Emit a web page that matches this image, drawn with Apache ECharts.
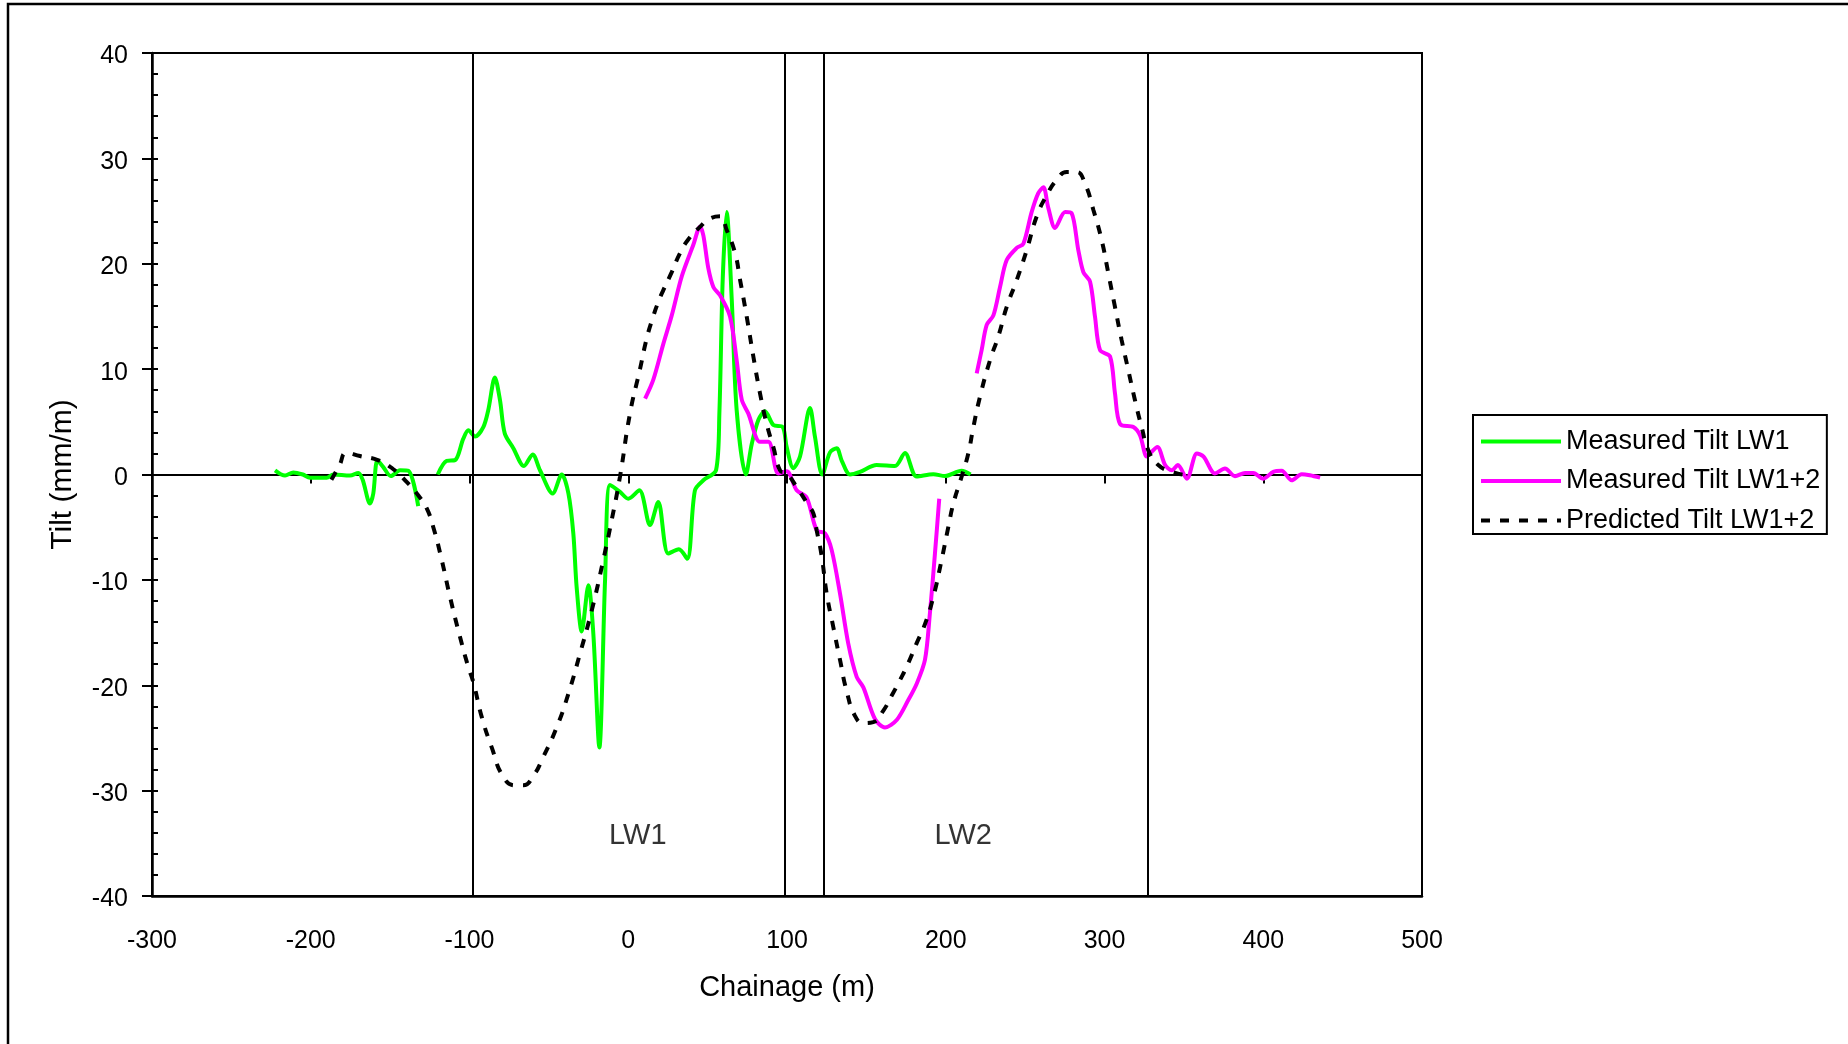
<!DOCTYPE html>
<html>
<head>
<meta charset="utf-8">
<title>Tilt profile</title>
<script src="https://cdn.jsdelivr.net/npm/echarts@6/dist/echarts.min.js"></script>
<style>
  html, body { margin: 0; padding: 0; background: #fff; }
  #chart { width: 1848px; height: 1044px; }
</style>
</head>
<body>
<div id="chart"></div>
<script>
// ---- Measured tilt after LW1 (a null tilt marks a break in the survey line)
const lw1Chainage = [-222.5, -216.2, -211, -205, -200.5, -190, -185.8, -175.3, -170, -167.3, -162.7, -160.6, -158, -154.3, -149.6, -143.8, -138.5, -132.3,
  -126,
  -120, -114.4, -109.1, -103.9, -100.7, -96.5, -91.3, -88.2, -84, -80.8, -77.8, -72.4, -65.7, -60.2, -55.6, -47.6, -41.9, -37.7, -34.6, -32.5, -29.3, -25.1, -22, -18.2, -14.6, -11.5, -5.2, 0, 7, 13.7, 18.9, 25.2, 31.9, 37.2, 42, 47.3, 55.3, 57.4, 59.5, 62, 65.2, 68.3, 74.1, 77.8, 82, 86.1, 91.4, 97.3, 99.8, 104, 108.2, 114.5, 117.6, 122.2, 127.1, 131.3, 134.5, 139.7, 146, 156.5, 168, 174.3, 181.7, 192.2, 199.5, 210, 215.6];
const lw1Tilt = [0.4, -0.1, 0.2, 0.0, -0.3, -0.3, 0, -0.1, 0.15, -0.5, -2.75, -1.8, 1.35, 0.7, -0.15, 0.4, 0.35, -3.0,
  null,
  0, 1.3, 1.36, 3.4, 4.2, 3.6, 4.5, 6.1, 9.2, 7.06, 3.9, 2.5, 0.8, 1.9, 0.4, -1.8, 0, -1.8, -5.6, -10.7, -14.9, -10.5, -15.1, -25.9, -10, -1.0, -1.65, -2.3, -1.5, -4.8, -2.6, -7.5, -7.1, -8.0, -1.5, -0.55, 0.4, 5.8, 18.5, 24.9, 16.6, 6.1, 0, 2.9, 5.2, 6.0, 4.7, 4.5, 2.6, 0.6, 1.7, 6.3, 3.6, 0, 2.1, 2.5, 1.3, 0, 0.25, 0.9, 0.8, 2.05, -0.2, 0.03, -0.15, 0.35, 0];

// ---- Measured tilt after LW1 and LW2
const lw12Chainage = [10.6, 15.8, 22.1, 27.4, 33.7, 41, 45.2, 47.3, 50.4, 53.6, 57.8, 64.1, 68.3, 71.5, 75.6, 83, 88.3, 94.5, 99.8, 106.1, 112.4, 118.7, 124, 128.2, 133.4, 138.6, 143.9, 148.1, 155.4, 161.7, 169.1, 176.4, 181.7, 186.9, 190, 193.2, 195.9,
  207,
  219.5, 222.6, 225.8, 230, 234.2, 238.4, 244.7, 248.9, 254.1, 258.3, 261.5, 264.6, 268.9, 275.2, 279.3, 283.5, 286.7, 290.9, 294, 297.2, 303.5, 306.6, 309.8, 318.2, 322.4, 326.6, 328.7, 333.3, 338.2, 342.4, 346.2, 351.9, 358.2, 362.4, 369.6, 375.9, 382.2, 388.5, 393.7, 400, 406.3, 411.6, 417.9, 424.2, 429.4, 435.8];
const lw12Tilt = [7.2, 9.0, 12.4, 15.1, 18.8, 21.8, 23.5, 22.7, 19.6, 17.8, 17.0, 15.0, 10.85, 7.1, 5.8, 3.1, 3.1, 0.1, 0.3, -1.5, -2.2, -5.3, -5.6, -7.2, -11.3, -16.05, -19.2, -20.2, -23.2, -24.0, -23.3, -21.4, -19.85, -17.6, -13.2, -7.5, -2.3,
  null,
  9.6, 11.8, 14.2, 15.1, 17.8, 20.35, 21.5, 21.9, 24.9, 26.7, 27.25, 25.3, 23.4, 24.9, 24.8, 21.3, 19.2, 18.3, 15.0, 11.8, 11.2, 7.7, 4.8, 4.5, 3.7, 1.7, 2.0, 2.6, 0.9, 0.4, 0.9, -0.4, 2.0, 1.7, 0.1, 0.57, -0.16, 0.15, 0.15, -0.4, 0.25, 0.35, -0.55, 0.03, -0.07, -0.3];

// ---- Predicted tilt after LW1 and LW2
const predChainage = [-187, -182.1, -177.4, -169, -157.4, -148, -139.6, -132.2, -127, -122.8, -117.5, -112.3, -106, -100.7, -97.6, -92.3, -86, -78.7, -71.3, -66.1, -59.8, -53.5, -45.1, -37.7, -30.4, -23, -15.7, -10.4, -5.2, 1.1, 7.4, 11.6, 15.5, 19, 22.1, 27.4, 32.6, 37.8, 45.2, 51.5, 57.8, 62, 67.3, 70.4, 74.6, 78.8, 83, 87.2, 91.4, 95.6, 99.8, 106.1, 113.4, 116.6, 118.7, 121.8, 125, 129.2, 133.4, 137.5, 142.8, 148.1, 154.4, 160.7, 165.9, 171.2, 176.4, 181.7, 186.9, 192.2, 197.4, 201.6, 204.8, 210, 214.2, 217.4, 221.6, 227.9, 233.1, 238.4, 244.7, 251, 257.3, 263.6, 269.9, 276.2, 282.5, 287.7, 293, 298.2, 302.4, 306.6, 310.8, 315, 319.2, 323.4, 327.6, 333.9, 342.4, 351];
const predTilt = [-0.5, 0.8, 2.05, 1.75, 1.35, 0.5, -0.7, -2.0, -3.2, -5.0, -8.1, -11.6, -15.4, -18.3, -19.7, -23.0, -25.9, -28.7, -29.5, -29.5, -28.6, -26.8, -24, -20.8, -17, -12.9, -8.1, -4.3, -0.2, 5.8, 10.0, 12.9, 14.9, 16.4, 17.5, 19.2, 21, 22.3, 23.5, 24.3, 24.5, 23.2, 21, 18.5, 15, 11.2, 7.7, 4.8, 2.6, 0.4, 0.1, -1.2, -2.9, -3.7, -5.3, -7.7, -11.3, -14.5, -17.6, -20.5, -22.9, -23.6, -23.5, -22.4, -21, -19.5, -17.9, -16, -14.2, -11.6, -8.1, -5.0, -2.75, -0.2, 2.0, 4.5, 7.4, 10.85, 13.1, 15.9, 18.45, 21.3, 24.5, 26.5, 27.95, 28.7, 28.7, 27.6, 25.1, 22.25, 19.1, 15.9, 12.75, 9.9, 7.05, 4.5, 2.3, 0.9, 0.25, -0.05];

// ---- Longwall panel edges (chainage, m) and panel names
const panelEdges = [-98, 98.5, 123, 327.5];
const panelNames = ['LW1', 'LW2'];
const panelLabelChainage = [6, 211];
const panelLabelTilt = [-34.3, -34.3];

// ---- Axis ranges
const xRange = [-300, 500];
const yRange = [-40, 40];

const seriesNames = ['Measured Tilt LW1', 'Measured Tilt LW1+2', 'Predicted Tilt LW1+2'];

const FONT = '"Liberation Sans", Arial, Helvetica, sans-serif';
const pairs = (xs, ys) => xs.map((x, i) => [x, ys[i]]);

const chart = echarts.init(document.getElementById('chart'), null, { renderer: 'canvas' });

chart.setOption({
  animation: false,
  backgroundColor: '#fff',
  textStyle: { fontFamily: FONT, color: '#000' },
  graphic: [{
    type: 'rect',
    shape: { x: 8, y: 4, width: 1900, height: 1100 },
    style: { fill: null, stroke: '#000', lineWidth: 2.5 },
    silent: true,
    z: -10
  }],
  grid: {
    left: 152, top: 53, width: 1270, height: 843,
    show: true, borderColor: '#000', borderWidth: 2, backgroundColor: 'transparent'
  },
  legend: {
    orient: 'vertical',
    left: 1473, top: 415,
    padding: [13, 6.5, 0, 6],
    itemGap: 12.5,
    itemWidth: 80,
    itemHeight: 27,
    backgroundColor: '#fff',
    borderColor: '#000',
    borderWidth: 2,
    borderRadius: 0,
    itemStyle: { opacity: 0 },
    lineStyle: { width: 4 },
    textStyle: { color: '#000', fontSize: 27, fontFamily: FONT, lineHeight: 27 },
    data: seriesNames
  },
  xAxis: [
    {
      type: 'value', min: xRange[0], max: xRange[1], interval: 100, position: 'bottom',
      axisLine: { show: true, onZero: false, lineStyle: { color: '#000', width: 2.5 } },
      axisTick: { show: false },
      splitLine: { show: false },
      axisLabel: { color: '#000', fontSize: 25, fontFamily: FONT, margin: 33 },
      name: 'Chainage (m)', nameLocation: 'middle', nameGap: 77,
      nameTextStyle: { color: '#000', fontSize: 29, fontFamily: FONT }
    },
    {
      // axis line along zero tilt with downward ticks
      type: 'value', min: xRange[0], max: xRange[1], interval: 100, position: 'bottom',
      axisLine: { show: true, onZero: true, onZeroAxisIndex: 0, lineStyle: { color: '#000', width: 2 } },
      axisTick: { show: true, inside: false, length: 9, lineStyle: { color: '#000', width: 2 } },
      axisLabel: { show: false },
      splitLine: { show: false }
    }
  ],
  yAxis: [
    {
      type: 'value', min: yRange[0], max: yRange[1], interval: 10, position: 'left',
      axisLine: { show: true, onZero: false, lineStyle: { color: '#000', width: 2.5 } },
      axisTick: { show: true, inside: false, length: 10, lineStyle: { color: '#000', width: 2 } },
      axisLabel: {
        color: '#000', fontSize: 25, fontFamily: FONT, margin: 24,
        verticalAlign: 'top', lineHeight: 7
      },
      splitLine: { show: false },
      name: 'Tilt (mm/m)', nameLocation: 'middle', nameRotate: 90, nameGap: 74,
      nameTextStyle: { color: '#000', fontSize: 30, fontFamily: FONT }
    },
    {
      // inner minor ticks every 2 mm/m
      type: 'value', min: yRange[0], max: yRange[1], interval: 2, position: 'left',
      axisLine: { show: false, onZero: false },
      axisTick: { show: true, inside: true, length: 6, lineStyle: { color: '#000', width: 2 } },
      axisLabel: { show: false },
      splitLine: { show: false }
    }
  ],
  series: [
    {
      name: 'panels',
      type: 'line',
      data: [],
      silent: true,
      z: 1,
      markLine: {
        silent: true,
        symbol: ['none', 'none'],
        label: { show: false },
        lineStyle: { color: '#000', type: 'solid', width: 2 },
        emphasis: { disabled: true },
        data: panelEdges.map(v => ({ xAxis: v }))
      }
    },
    {
      name: seriesNames[0],
      type: 'line',
      data: pairs(lw1Chainage, lw1Tilt),
      showSymbol: false,
      symbol: 'none',
      smooth: 0.3,
      connectNulls: false,
      lineStyle: { color: '#00ff00', width: 4 },
      itemStyle: { color: '#00ff00' },
      z: 3
    },
    {
      name: seriesNames[1],
      type: 'line',
      data: pairs(lw12Chainage, lw12Tilt),
      showSymbol: false,
      symbol: 'none',
      smooth: 0.3,
      connectNulls: false,
      lineStyle: { color: '#ff00ff', width: 4 },
      itemStyle: { color: '#ff00ff' },
      z: 4
    },
    {
      name: seriesNames[2],
      type: 'line',
      data: pairs(predChainage, predTilt),
      showSymbol: false,
      symbol: 'none',
      smooth: 0.5,
      lineStyle: { color: '#000', width: 4, type: [9, 10], cap: 'butt' },
      itemStyle: { color: '#000' },
      z: 5
    },
    {
      name: 'panel labels',
      type: 'scatter',
      symbolSize: 0,
      silent: true,
      data: panelNames.map((n, i) => ({ name: n, value: [panelLabelChainage[i], panelLabelTilt[i]] })),
      label: {
        show: true, position: 'inside', formatter: p => p.name,
        color: '#000', fontSize: 29, fontFamily: FONT
      },
      z: 6
    }
  ]
});
</script>
</body>
</html>
